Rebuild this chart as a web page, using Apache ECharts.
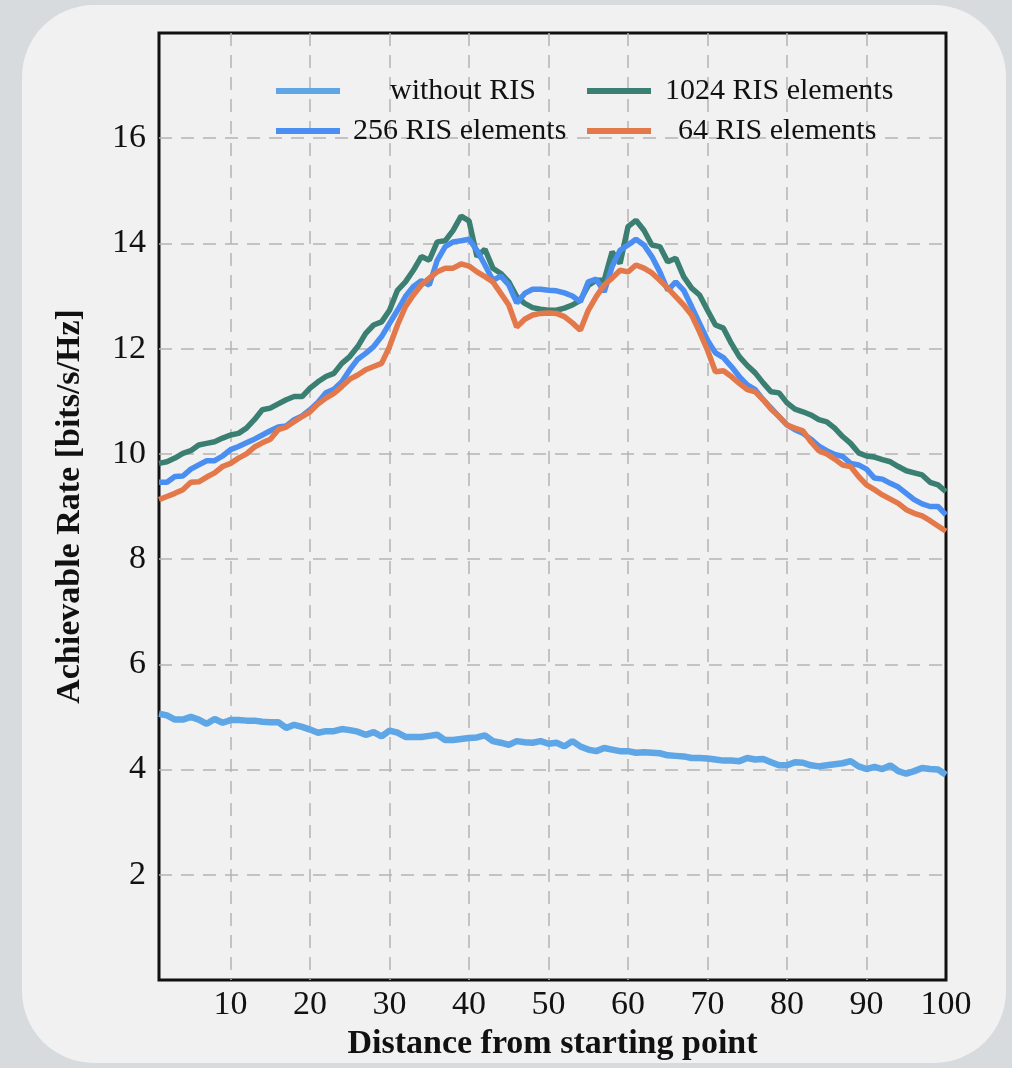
<!DOCTYPE html>
<html>
<head>
<meta charset="utf-8">
<script src="https://cdn.jsdelivr.net/npm/echarts@6/dist/echarts.min.js"></script>
<style>
  html, body { margin: 0; padding: 0; background: #d7dbde; width: 1012px; height: 1068px; overflow: hidden; }
  #card { position: absolute; left: 22px; top: 5px; width: 984px; height: 1058px; background: #f1f1f1; border-radius: 72px; }
  #chart { position: absolute; left: 0; top: 0; width: 1012px; height: 1068px; }
</style>
</head>
<body>
<div id="card"></div>
<div id="chart"></div>
<script>
const distance = [1,2,3,4,5,6,7,8,9,10,11,12,13,14,15,16,17,18,19,20,21,22,23,24,25,26,27,28,29,30,31,32,33,34,35,36,37,38,39,40,41,42,43,44,45,46,47,48,49,50,51,52,53,54,55,56,57,58,59,60,61,62,63,64,65,66,67,68,69,70,71,72,73,74,75,76,77,78,79,80,81,82,83,84,85,86,87,88,89,90,91,92,93,94,95,96,97,98,99,100];

const withoutRIS = [5.06,5.03,4.95,4.95,5.0,4.95,4.87,4.96,4.89,4.94,4.94,4.93,4.93,4.91,4.9,4.9,4.79,4.85,4.81,4.76,4.7,4.73,4.73,4.77,4.75,4.72,4.66,4.71,4.63,4.74,4.7,4.62,4.62,4.62,4.64,4.66,4.56,4.56,4.58,4.6,4.61,4.65,4.54,4.51,4.47,4.54,4.52,4.51,4.54,4.49,4.51,4.44,4.54,4.44,4.38,4.35,4.41,4.38,4.35,4.35,4.32,4.33,4.32,4.31,4.27,4.26,4.25,4.22,4.22,4.21,4.19,4.17,4.17,4.16,4.22,4.19,4.2,4.14,4.08,4.08,4.14,4.13,4.08,4.06,4.08,4.1,4.12,4.16,4.06,4.01,4.05,4.01,4.08,3.97,3.92,3.97,4.03,4.01,4.0,3.9];

const ris1024 = [9.82,9.85,9.92,10.01,10.06,10.17,10.2,10.23,10.3,10.36,10.39,10.49,10.65,10.84,10.87,10.95,11.03,11.09,11.09,11.25,11.37,11.47,11.53,11.72,11.85,12.04,12.29,12.45,12.51,12.73,13.11,13.27,13.49,13.75,13.68,14.03,14.05,14.25,14.52,14.43,13.75,13.89,13.53,13.43,13.27,12.99,12.86,12.78,12.75,12.73,12.73,12.77,12.83,12.92,13.2,13.3,13.3,13.84,13.62,14.32,14.44,14.25,13.97,13.94,13.65,13.72,13.37,13.15,13.02,12.73,12.45,12.39,12.1,11.85,11.68,11.54,11.35,11.18,11.16,10.97,10.85,10.8,10.74,10.65,10.61,10.49,10.33,10.2,10.02,9.96,9.94,9.89,9.85,9.76,9.68,9.64,9.6,9.46,9.41,9.28];

const ris256 = [9.46,9.46,9.57,9.58,9.71,9.79,9.87,9.87,9.96,10.08,10.14,10.21,10.28,10.36,10.44,10.51,10.53,10.65,10.72,10.84,10.98,11.16,11.23,11.37,11.6,11.8,11.91,12.04,12.23,12.48,12.73,12.99,13.18,13.29,13.21,13.68,13.94,14.03,14.05,14.08,13.87,13.59,13.3,13.38,13.21,12.87,13.05,13.13,13.13,13.11,13.1,13.06,13.0,12.89,13.27,13.32,13.08,13.56,13.87,13.97,14.08,13.97,13.75,13.46,13.11,13.27,13.11,12.8,12.48,12.16,11.92,11.83,11.66,11.47,11.31,11.22,11.03,10.87,10.71,10.55,10.46,10.39,10.28,10.15,10.06,9.99,9.95,9.82,9.79,9.71,9.54,9.52,9.44,9.37,9.25,9.13,9.05,9.0,9.0,8.84];

const ris64 = [9.13,9.19,9.25,9.32,9.46,9.47,9.56,9.64,9.76,9.82,9.92,10.0,10.13,10.21,10.28,10.46,10.51,10.61,10.71,10.8,10.95,11.06,11.15,11.28,11.42,11.5,11.6,11.66,11.72,12.04,12.45,12.8,13.02,13.21,13.34,13.46,13.53,13.53,13.61,13.57,13.46,13.37,13.27,13.05,12.83,12.41,12.56,12.64,12.67,12.68,12.67,12.61,12.49,12.35,12.73,12.99,13.21,13.34,13.49,13.46,13.59,13.53,13.44,13.3,13.15,12.99,12.83,12.64,12.32,11.97,11.56,11.58,11.47,11.34,11.22,11.18,11.03,10.85,10.71,10.55,10.49,10.44,10.23,10.06,10.0,9.9,9.79,9.76,9.57,9.41,9.32,9.22,9.14,9.06,8.94,8.87,8.82,8.73,8.63,8.53];

const xTickLabels = [10,20,30,40,50,60,70,80,90,100];
const xGridValues = [10,20,30,40,50,60,70,80,90];
const seriesNames = ['without RIS','1024 RIS elements','256 RIS elements','64 RIS elements'];
const seriesColors = ['#5ea6e6','#3b7f72','#4b8ef2','#e3784a'];
const seriesWidths = [6.5, 5.5, 5.5, 5.5];
const seriesValues = [withoutRIS, ris1024, ris256, ris64];

const FONT = "'Liberation Serif', 'DejaVu Serif', serif";

function pairs(vals) { return vals.map((v, i) => [distance[i], v]); }

function legendAt(name, left, top, padLeft) {
  return {
    data: [name], left: left, top: top, padding: 0, orient: 'horizontal',
    itemWidth: 64, itemHeight: 6, selectedMode: false,
    icon: 'rect',
    textStyle: { fontFamily: FONT, fontSize: 30, color: '#111', lineHeight: 36, padding: [0, 0, 0, padLeft] }
  };
}

const chart = echarts.init(document.getElementById('chart'), null, { renderer: 'canvas' });
chart.setOption({
  backgroundColor: 'transparent',
  animation: false,
  grid: { left: 159, right: 66, top: 33, bottom: 88, show: true, borderColor: '#111', borderWidth: 3, containLabel: false },
  legend: [
    legendAt(seriesNames[0], 276, 73, 45),
    legendAt(seriesNames[1], 587, 73, 9),
    legendAt(seriesNames[2], 276, 113, 8),
    legendAt(seriesNames[3], 587, 113, 22)
  ],
  xAxis: {
    type: 'value', min: 1, max: 100,
    name: 'Distance from starting point', nameLocation: 'middle', nameGap: 42,
    nameTextStyle: { fontFamily: FONT, fontSize: 34, fontWeight: 'bold', color: '#111' },
    axisLine: { show: false },
    axisTick: { show: false, customValues: xGridValues },
    axisLabel: { customValues: xTickLabels, fontFamily: FONT, fontSize: 34, color: '#111', margin: 8 },
    splitLine: { show: true, showMinLine: true, showMaxLine: true, lineStyle: { color: '#b4b4b4', width: 1.5, type: [13, 9] } }
  },
  yAxis: {
    type: 'value', min: 0, max: 18, interval: 2,
    name: 'Achievable Rate [bits/s/Hz]', nameLocation: 'middle', nameGap: 72, nameRotate: 90,
    nameTextStyle: { fontFamily: FONT, fontSize: 34, fontWeight: 'bold', color: '#111' },
    axisLine: { show: false },
    axisTick: { show: false },
    axisLabel: {
      fontFamily: FONT, fontSize: 34, color: '#111', margin: 13,
      formatter: v => (v === 0 || v === 18) ? '' : String(v)
    },
    splitLine: { show: true, showMinLine: false, showMaxLine: false, lineStyle: { color: '#b4b4b4', width: 1.5, type: [13, 9] } }
  },
  series: seriesNames.map((n, i) => ({
    name: n, type: 'line', data: pairs(seriesValues[i]),
    showSymbol: false, symbol: 'none', smooth: false,
    color: seriesColors[i],
    lineStyle: { color: seriesColors[i], width: seriesWidths[i] },
    z: 2 + i
  }))
});
</script>
</body>
</html>
